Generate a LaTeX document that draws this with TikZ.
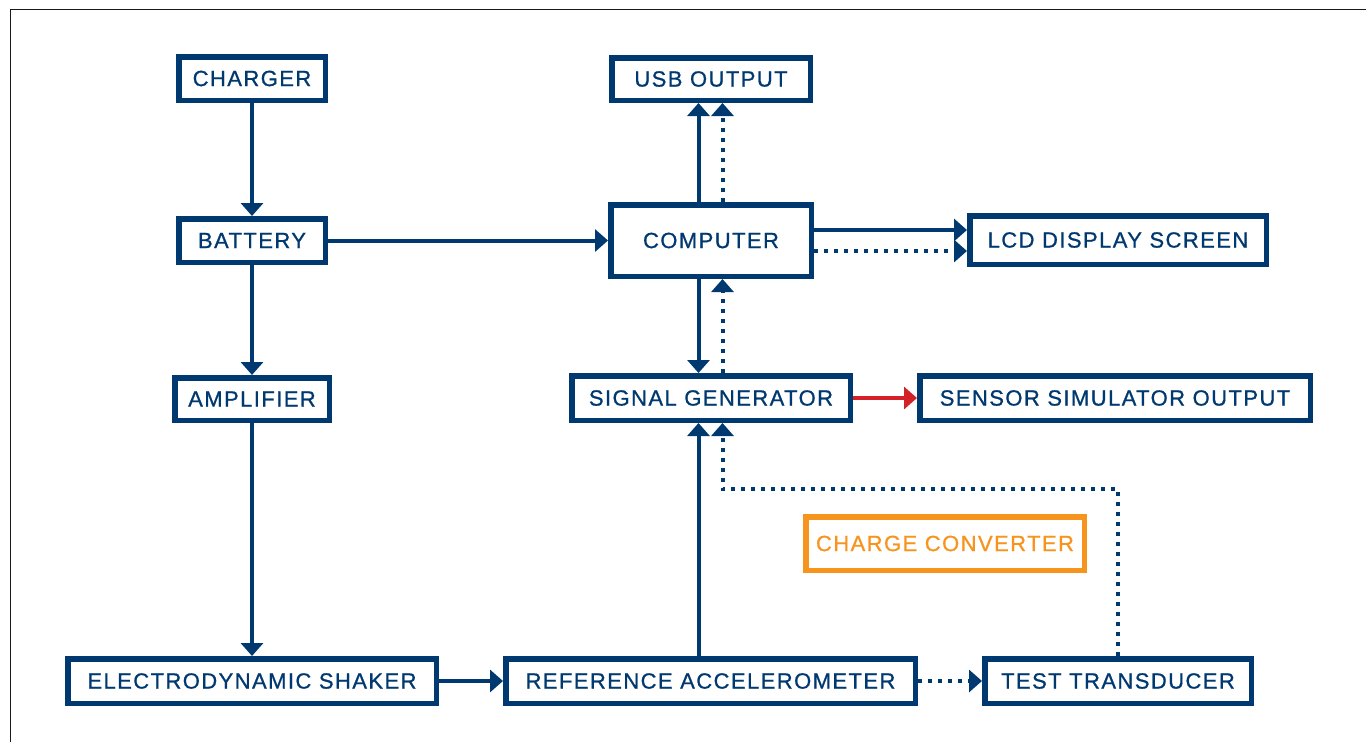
\documentclass[tikz,border=0pt]{standalone}
\usepackage{fontspec}
\setmainfont{Liberation Sans}[LetterSpace=6.5,FakeBold=0.8]
\usetikzlibrary{arrows.meta}
\definecolor{navy}{RGB}{0,56,112}
\definecolor{orangec}{RGB}{247,148,30}
\definecolor{redc}{RGB}{212,33,40}
\tikzset{
  blk/.style={draw=navy, line width=5.5pt, text=navy, inner sep=0pt, fill=white,
    font=\fontsize{22}{26}\selectfont},
  conn/.style={draw=navy, line width=4pt, -{Triangle[length=13pt 0 0,width=22pt 0 0]}},
  dotc/.style={conn, dash pattern=on 4pt off 6pt},
}
\newcommand{\bx}[6]{% name, cx, cy, w, h, text
  \node[blk, minimum width=#4pt-5.5pt, minimum height=#5pt-5.5pt] (#1) at (#2,#3) {#6};}
\begin{document}
\begin{tikzpicture}[x=1pt,y=-1pt]
\useasboundingbox (0,0) rectangle (1366,742);
\fill[white] (0,0) rectangle (1366,742);
\draw[line width=1.4pt, black!90] (10.5,742) -- (10.5,9.5) -- (1366,9.5);

\bx{charger}{252}{78.5}{152}{49}{CHARGER}
\bx{battery}{252}{240.5}{152}{49}{BATTERY}
\bx{amp}{252}{399}{160}{48}{AMPLIFIER}
\bx{usb}{711}{79}{204}{48}{USB OUTPUT}
\bx{comp}{711}{240.5}{206}{77}{COMPUTER}
\bx{lcd}{1118}{240}{302}{54}{LCD DISPLAY SCREEN}
\bx{sig}{711}{398}{284}{50}{SIGNAL GENERATOR}
\bx{sens}{1115}{398}{396}{50}{SENSOR SIMULATOR OUTPUT}
\bx{shaker}{252}{681}{374}{50}{ELECTRODYNAMIC SHAKER}
\bx{ref}{710.5}{681}{415}{50}{REFERENCE ACCELEROMETER}
\bx{test}{1118}{681}{272}{50}{TEST TRANSDUCER}
\node[blk, draw=orangec, text=orangec, minimum width=284pt-5.5pt, minimum height=59pt-5.5pt] (cc) at (945,543.5) {CHARGE CONVERTER};

\coordinate (xa) at (698.5,0);
\coordinate (xb) at (722.5,0);
\coordinate (ya) at (0,230);
\coordinate (yb) at (0,251);
\coordinate (yc) at (0,489);

\draw[conn] (charger) -- (battery);
\draw[conn] (battery) -- (comp);
\draw[conn] (battery) -- (amp);
\draw[conn] (amp) -- (shaker);
\draw[conn] (shaker) -- (ref);
\draw[dotc] (ref) -- (test);
\draw[conn] (ref.north -| xa) -- (sig.south -| xa);
\draw[dotc] (test.north) |- (yc -| xb) -- (sig.south -| xb);
\draw[conn] (comp.south -| xa) -- (sig.north -| xa);
\draw[dotc] (sig.north -| xb) -- (comp.south -| xb);
\draw[conn] (comp.north -| xa) -- (usb.south -| xa);
\draw[dotc] (comp.north -| xb) -- (usb.south -| xb);
\draw[conn] (comp.east |- ya) -- (lcd.west |- ya);
\draw[dotc] (comp.east |- yb) -- (lcd.west |- yb);
\draw[conn, draw=redc, fill=redc] (sig) -- (sens);
\end{tikzpicture}
\end{document}
